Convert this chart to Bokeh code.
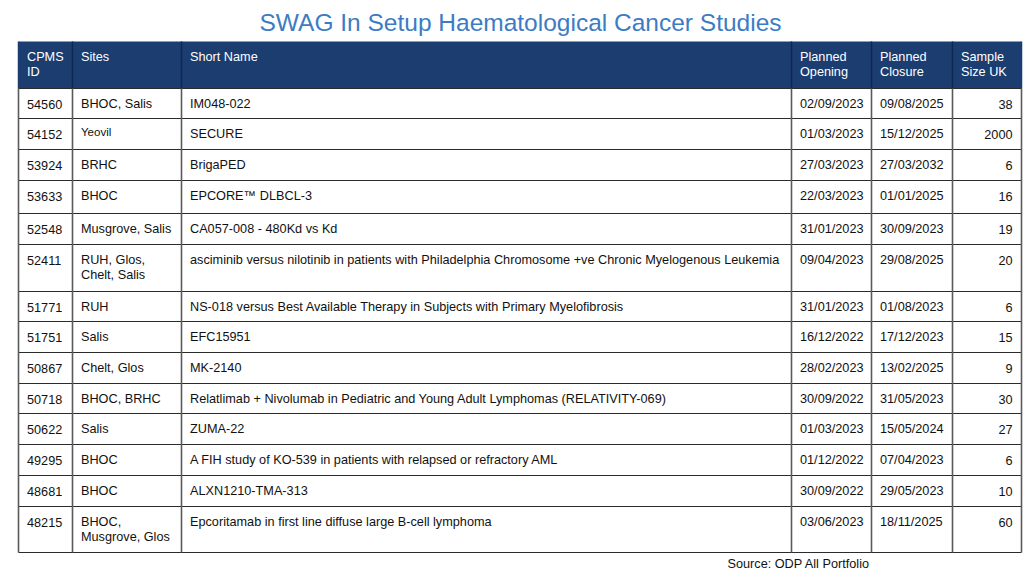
from bokeh.plotting import figure
from bokeh.models import ColumnDataSource, Range1d
from bokeh.embed import file_html
from bokeh.resources import INLINE
from bokeh.core.properties import value

# ---------------- data ----------------
title = "SWAG In Setup Haematological Cancer Studies"
headers = ["CPMS\nID", "Sites", "Short Name", "Planned\nOpening", "Planned\nClosure", "Sample\nSize UK"]
cpms_id = ["54560", "54152", "53924", "53633", "52548", "52411", "51771", "51751",
           "50867", "50718", "50622", "49295", "48681", "48215"]
sites = ["BHOC, Salis", "Yeovil", "BRHC", "BHOC", "Musgrove, Salis", "RUH, Glos,\nChelt, Salis",
         "RUH", "Salis", "Chelt, Glos", "BHOC, BRHC", "Salis", "BHOC", "BHOC", "BHOC,\nMusgrove, Glos"]
short_name = [
    "IM048-022",
    "SECURE",
    "BrigaPED",
    "EPCORE\u2122 DLBCL-3",
    "CA057-008 - 480Kd vs Kd",
    "asciminib versus nilotinib in patients with Philadelphia Chromosome +ve Chronic Myelogenous Leukemia",
    "NS-018 versus Best Available Therapy in Subjects with Primary Myelofibrosis",
    "EFC15951",
    "MK-2140",
    "Relatlimab + Nivolumab in Pediatric and Young Adult Lymphomas (RELATIVITY-069)",
    "ZUMA-22",
    "A FIH study of KO-539 in patients with relapsed or refractory AML",
    "ALXN1210-TMA-313",
    "Epcoritamab in first line diffuse large B-cell lymphoma",
]
planned_opening = ["02/09/2023", "01/03/2023", "27/03/2023", "22/03/2023", "31/01/2023", "09/04/2023",
                   "31/01/2023", "16/12/2022", "28/02/2023", "30/09/2022", "01/03/2023", "01/12/2022",
                   "30/09/2022", "03/06/2023"]
planned_closure = ["09/08/2025", "15/12/2025", "27/03/2032", "01/01/2025", "30/09/2023", "29/08/2025",
                   "01/08/2023", "17/12/2023", "13/02/2025", "31/05/2023", "15/05/2024", "07/04/2023",
                   "29/05/2023", "18/11/2025"]
sample_size_uk = [38, 2000, 6, 16, 19, 20, 6, 15, 9, 30, 27, 6, 10, 60]
source_note = "Source: ODP All Portfolio"

# ---------------- layout (pixels) ----------------
W, H = 1024, 576
col_edges = [18, 72, 181, 791, 871, 952, 1021]
header_top, header_bottom = 41, 88
row_heights = [30, 31, 31, 33, 31, 47, 30, 31, 31, 30, 31, 31, 31, 46]
pad = 8.5
line_gap = 15
first_line = 15.5
font = "Liberation Sans"
body_size = "12.7px"

row_edges = [header_bottom]
for h in row_heights:
    row_edges.append(row_edges[-1] + h)

p = figure(width=W, height=H, x_range=Range1d(0, W), y_range=Range1d(H, 0),
           output_backend="svg", toolbar_location=None, min_border=0,
           x_axis_type=None, y_axis_type=None)
p.grid.visible = False
p.outline_line_color = None
p.background_fill_color = "white"
p.border_fill_color = "white"

# header background
p.quad(left=[col_edges[0]], right=[col_edges[-1]], top=[header_top], bottom=[header_bottom],
       fill_color="#1B3D70", line_color=None)

# header separators
p.segment(x0=col_edges[1:-1], x1=col_edges[1:-1], y0=[header_top] * (len(col_edges) - 2),
          y1=[header_bottom] * (len(col_edges) - 2), line_color="#10284F", line_width=1.5)

# body grid: horizontal
p.segment(x0=[col_edges[0]] * len(row_edges), x1=[col_edges[-1]] * len(row_edges),
          y0=row_edges, y1=row_edges, line_color="#2b2b2b", line_width=1.2)
# body grid: vertical
p.segment(x0=col_edges, x1=col_edges, y0=[header_bottom] * len(col_edges),
          y1=[row_edges[-1]] * len(col_edges), line_color="#5a5a5a", line_width=1.6)
# outer left/right in header
p.segment(x0=[col_edges[0], col_edges[-1]], x1=[col_edges[0], col_edges[-1]],
          y0=[header_top] * 2, y1=[header_bottom] * 2, line_color="#1B3D70", line_width=1.5)

# text cells
tx, ty, tt, ta, tc, ts = [], [], [], [], [], []


def add_cell(text, col, top, color="#111111", size=body_size, right=False, dy=0.0):
    for i, line in enumerate(str(text).split("\n")):
        if right:
            tx.append(col_edges[col + 1] - pad - 0.5)
            ta.append("right")
        else:
            tx.append(col_edges[col] + pad)
            ta.append("left")
        ty.append(top + first_line + dy + i * line_gap)
        tt.append(line)
        tc.append(color)
        ts.append(size)


for c, h in enumerate(headers):
    add_cell(h, c, header_top, color="white")

for r in range(len(cpms_id)):
    top = row_edges[r]
    add_cell(cpms_id[r], 0, top)
    if sites[r] == "Yeovil":
        add_cell(sites[r], 1, top, size="11.5px", dy=-2.5)
    else:
        add_cell(sites[r], 1, top)
    add_cell(short_name[r], 2, top)
    add_cell(planned_opening[r], 3, top)
    add_cell(planned_closure[r], 4, top)
    add_cell(sample_size_uk[r], 5, top, right=True)

src = ColumnDataSource(dict(x=tx, y=ty, text=tt, align=ta, color=tc, size=ts))
p.text(x="x", y="y", text="text", text_align="align", text_color="color",
       text_font_size="size", text_baseline="middle", text_font=value(font), source=src)

# title
p.text(x=[(col_edges[0] + col_edges[-1]) / 2 + 0.5], y=[22], text=[title], text_align="center",
       text_baseline="middle", text_font=value(font), text_font_size="24.5px", text_color="#3C7CC4")

# source note
p.text(x=[727], y=[563], text=[source_note], text_align="left", text_baseline="middle",
       text_font=value(font), text_font_size=body_size, text_color="#111111")

open("out.html", "w").write(file_html(p, INLINE))
